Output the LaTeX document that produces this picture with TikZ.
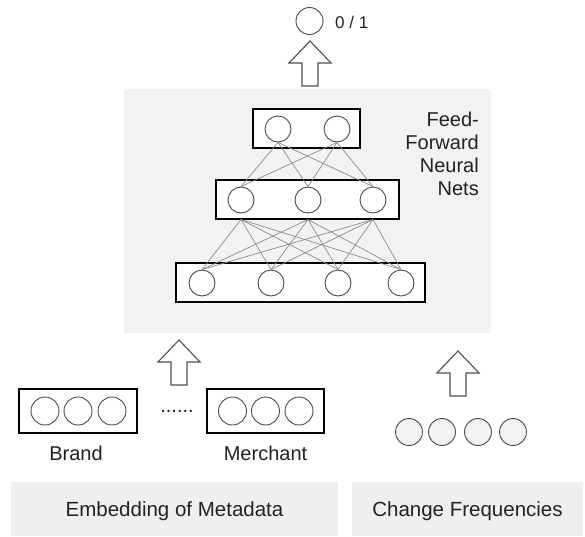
\documentclass[tikz,border=0pt]{standalone}
\usepackage{fontspec}
\setmainfont{Liberation Sans}
\definecolor{circD}{HTML}{4A4A4A}
\definecolor{connC}{HTML}{8C8C8C}
\definecolor{arrC}{HTML}{4F4F4F}
\definecolor{panelC}{HTML}{F2F2F2}
\definecolor{boxC}{HTML}{EFEFEF}
\definecolor{txtC}{HTML}{222222}
\begin{document}
\begin{tikzpicture}[x=1pt,y=-1pt,
  neuron/.style={circle, draw=circD, line width=0.9pt, fill=white, minimum size=26pt, inner sep=0pt},
  embneuron/.style={neuron, minimum size=28pt},
  freqneuron/.style={neuron, minimum size=27pt, fill=panelC},
  layerbox/.style={draw=black, line width=1.1pt, fill=white, inner sep=0pt},
  conn/.style={draw=connC, line width=0.7pt},
  bigarrow/.style={draw=arrC, line width=1.1pt, fill=white, line join=miter},
  lbl/.style={font=\fontsize{20}{23.3}\selectfont, text=txtC, inner sep=0pt},
  basebox/.style={fill=boxC, inner sep=0pt, text height=14.5pt, text depth=0pt,
    font=\fontsize{20.5}{24}\selectfont, text=txtC},
  uparrowpic/.pic={\path[bigarrow] (0,0) -- (21,22) -- (8,22) -- (8,45) -- (-8,45) -- (-8,22) -- (-21,22) -- cycle;}
]
\useasboundingbox (0,0) rectangle (585,536);

% output
\node[neuron, minimum size=27pt] (out) at (309.5,21) {};
\node[lbl, font=\fontsize{17}{20}\selectfont, anchor=base west] (outlbl) at (335,28) {0 / 1};
\pic at (310,41) {uparrowpic};

% panel
\node[fill=panelC, inner sep=0pt, minimum width=367.5pt, minimum height=243.5pt] (panel) at (307.25,210.75) {};
\node[lbl, align=right, anchor=north east] (ffnn) at (479,111.4) {Feed-\\Forward\\Neural\\Nets};

% layer boxes
\node[layerbox, minimum width=107pt, minimum height=39pt] (top) at (306.5,128.5) {};
\node[layerbox, minimum width=183pt, minimum height=39pt] (mid) at (307.5,199.5) {};
\node[layerbox, minimum width=249pt, minimum height=39pt] (bot) at (300.5,282.5) {};

\node[neuron] (t1) at (278,129) {};
\node[neuron] (t2) at (337,129) {};
\node[neuron] (m1) at (241,200) {};
\node[neuron] (m2) at (308,200) {};
\node[neuron] (m3) at (373,200) {};
\node[neuron] (b1) at (202,283) {};
\node[neuron] (b2) at (271,283) {};
\node[neuron] (b3) at (338,283) {};
\node[neuron] (b4) at (401,283) {};

\foreach \i in {1,...,4}{\foreach \j in {1,2,3}{\draw[conn] (b\i.north) -- (m\j.south |- mid.south);}}
\foreach \i in {1,2,3}{\foreach \j in {1,2}{\draw[conn] (m\i.north) -- (t\j.south);}}

% input arrows
\pic at (179,340) {uparrowpic};
\pic at (458,351) {uparrowpic};

% embeddings
\node[layerbox, minimum width=118pt, minimum height=44pt] (brand) at (78,411) {};
\node[embneuron] (e1) at (45,411) {};
\node[embneuron] (e2) at (78,411) {};
\node[embneuron] (e3) at (112,411) {};
\node[lbl, anchor=base] (dots) at (177,412.5) {......};
\node[layerbox, minimum width=117pt, minimum height=44pt] (merch) at (265.5,411) {};
\node[embneuron] (f1) at (232.5,411) {};
\node[embneuron] (f2) at (265.5,411) {};
\node[embneuron] (f3) at (299,411) {};
\node[lbl, anchor=base] (brandlbl) at (76,460) {Brand};
\node[lbl, anchor=base] (merchlbl) at (265.5,460) {Merchant};

% change frequencies
\node[freqneuron] (c1) at (409,432) {};
\node[freqneuron] (c2) at (442,432) {};
\node[freqneuron] (c3) at (478,432) {};
\node[freqneuron] (c4) at (513,432) {};

% bottom labels
\node[basebox, minimum width=327pt, minimum height=53.7pt] (embbox) at (174.5,508.85) {Embedding of Metadata};
\node[basebox, minimum width=231pt, minimum height=53.7pt] (chgbox) at (467.5,508.85) {Change Frequencies};
\end{tikzpicture}
\end{document}
